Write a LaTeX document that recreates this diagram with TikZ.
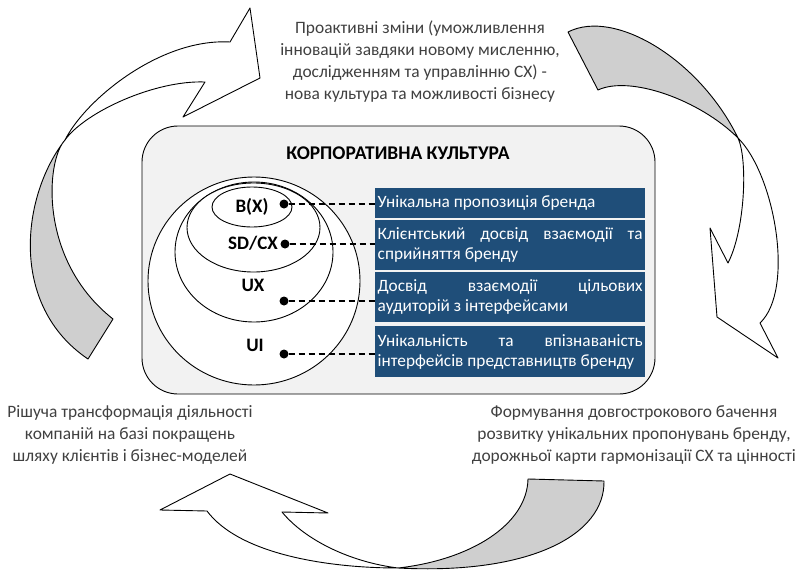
\documentclass[tikz,border=0pt]{standalone}
\usepackage{fontspec}
\setmainfont{Carlito}
\usetikzlibrary{shapes.geometric}
\definecolor{boxblue}{HTML}{1F4E79}
\definecolor{arrowgray}{HTML}{CFCFCF}
\definecolor{panelgray}{HTML}{F2F2F2}
\definecolor{textgray}{HTML}{404040}
\begin{document}
\begin{tikzpicture}[x=1pt,y=-1pt,line join=round,
  outline/.style={draw=black,line width=0.9pt},
  grayband/.style={outline,fill=arrowgray},
  whiteband/.style={outline,fill=white},
  ring/.style={ellipse,draw=black,line width=0.9pt,fill=white,inner sep=0pt},
  layerlabel/.style={font=\fontsize{19}{22}\selectfont\bfseries},
  pin/.style={circle,fill=black,inner sep=0pt,minimum size=9pt},
  infobox/.style={fill=boxblue,text=white,inner xsep=2.5pt,inner ysep=0pt,
    text width=265pt,align=justify,minimum width=270pt,anchor=north west,
    font=\fontsize{17.3}{20}\selectfont},
  note/.style={text=textgray,align=center,font=\fontsize{17.4}{22}\selectfont},
  leader/.style={dash pattern=on 6pt off 4pt,line width=1.3pt}]
\useasboundingbox (0,0) rectangle (798,570);

% curved arrows
\draw[grayband] (65,140) .. controls (22,195) and (8,305) .. (88,359) -- (113,319)
  .. controls (38,260) and (46,160) .. (65,140) -- cycle;
\draw[whiteband] (65,140) .. controls (85,100) and (160,38) .. (230,42) -- (250,8) -- (260,78)
  -- (183,117) -- (205,82) .. controls (155,80) and (85,112) .. (65,140) -- cycle;

\draw[grayband] (568,32) .. controls (615,8) and (700,60) .. (738,138)
  .. controls (700,100) and (630,75) .. (598,90) -- cycle;
\draw[whiteband] (738,138) .. controls (775,175) and (795,290) .. (760,323) -- (778,358)
  -- (717,317) -- (710,228) -- (728,263) .. controls (745,230) and (748,160) .. (738,138) -- cycle;

\draw[grayband] (528,479) -- (604,481) .. controls (605,535) and (530,575) .. (398,568)
  .. controls (470,560) and (527,525) .. (528,479) -- cycle;
\draw[whiteband] (398,568) .. controls (330,568) and (240,555) .. (207,511) -- (160,510)
  -- (230,474) -- (328,513) -- (282,512) .. controls (305,540) and (350,562) .. (398,568) -- cycle;

% notes
\node[note] (ntop) at (420,62) {Проактивні зміни (уможливлення\\інновацій завдяки новому мисленню,\\дослідженням та управлінню СХ) -\\нова культура та можливості бізнесу};
\node[note] (nleft) at (130,435) {Рішуча трансформація діяльності\\компаній на базі покращень\\шляху клієнтів і бізнес-моделей};
\node[note] (nright) at (634,435) {Формування довгострокового бачення\\розвитку унікальних пропонувань бренду,\\дорожньої карти гармонізації СХ та цінності};

% panel
\node[draw=black,line width=0.9pt,fill=panelgray,rounded corners=36pt,
  minimum width=513pt,minimum height=268pt,inner sep=0pt] (panel) at (398.5,260) {};
\node[font=\fontsize{19.4}{22}\selectfont\bfseries] (title) at (398,153) {КОРПОРАТИВНА КУЛЬТУРА};

% layers
\node[ring,minimum width=212pt,minimum height=208pt] (eui) at (254,281) {};
\node[ring,minimum width=158pt,minimum height=140pt] (eux) at (254,252) {};
\node[ring,minimum width=133pt,minimum height=89pt] (esd) at (253.5,227.5) {};
\node[ring,minimum width=80pt,minimum height=40pt] (ebx) at (252,207) {};

\node[layerlabel] (lbx) at (252,207) {B(X)};
\node[layerlabel] (lsd) at (253,243) {SD/CX};
\node[layerlabel] (lux) at (253,285) {UX};
\node[layerlabel] (lui) at (255,345) {UI};

\node[pin] (pbx) at (284,204) {};
\node[pin] (psd) at (285,244) {};
\node[pin] (pux) at (284,301) {};
\node[pin] (pui) at (284,354) {};

% info boxes
\node[infobox,minimum height=30pt] (ibx) at (375,188) {Унікальна пропозиція бренда};
\node[infobox,minimum height=50pt] (isd) at (375,220) {Клієнтський досвід взаємодії та\linebreak сприйняття бренду};
\node[infobox,minimum height=50pt] (iux) at (375,272) {Досвід взаємодії цільових\linebreak аудиторій з інтерфейсами};
\node[infobox,minimum height=51pt] (iui) at (375,326) {Унікальність та впізнаваність\linebreak інтерфейсів представництв бренду};

\draw[leader] (pbx.east) -- (pbx.east -| ibx.west);
\draw[leader] (psd.east) -- (psd.east -| isd.west);
\draw[leader] (pux.east) -- (pux.east -| iux.west);
\draw[leader] (pui.east) -- (pui.east -| iui.west);
\end{tikzpicture}
\end{document}
